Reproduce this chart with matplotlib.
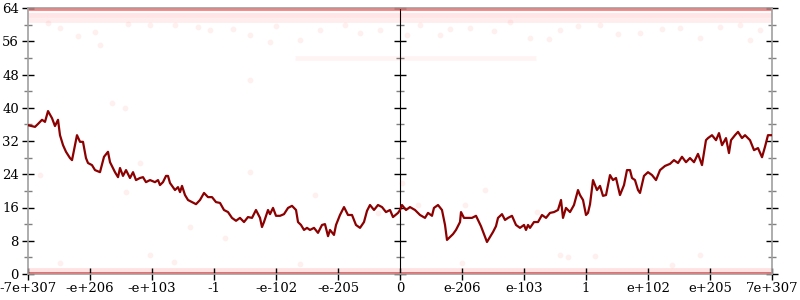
import numpy as np
import matplotlib
matplotlib.use('Agg')
import matplotlib.pyplot as plt
from matplotlib.ticker import MultipleLocator, NullFormatter

# x is measured in tick slots of the ordered-float axis (0 .. 12)
tick_labels = ["-7e+307", "-e+206", "-e+103", "-1", "-e-102", "-e-205", "0",
               "e-206", "e-103", "1", "e+102", "e+205", "7e+307"]

line_x = [0.000, 0.113, 0.161, 0.226, 0.274, 0.323, 0.387, 0.435, 0.484, 0.516,
          0.565, 0.613, 0.677, 0.710, 0.758, 0.790, 0.839, 0.887, 0.935, 0.968,
          1.032, 1.081, 1.161, 1.226, 1.290, 1.323, 1.403, 1.452, 1.484, 1.532,
          1.581, 1.645, 1.694, 1.742, 1.806, 1.855, 1.903, 1.968, 2.048, 2.097,
          2.129, 2.177, 2.226, 2.258, 2.290, 2.371, 2.419, 2.452, 2.484, 2.532,
          2.581, 2.645, 2.710, 2.774, 2.839, 2.903, 2.968, 3.032, 3.097, 3.161,
          3.226, 3.290, 3.355, 3.419, 3.484, 3.548, 3.613, 3.677, 3.742, 3.774,
          3.806, 3.871, 3.903, 3.952, 4.000, 4.065, 4.129, 4.194, 4.258, 4.323,
          4.355, 4.403, 4.452, 4.500, 4.548, 4.613, 4.677, 4.742, 4.790, 4.839,
          4.871, 4.935, 4.968, 5.032, 5.097, 5.161, 5.226, 5.290, 5.355, 5.419,
          5.468, 5.516, 5.581, 5.645, 5.710, 5.774, 5.839, 5.887, 5.968, 6.000,
          6.032, 6.097, 6.161, 6.242, 6.323, 6.403, 6.452, 6.516, 6.548, 6.613,
          6.677, 6.726, 6.758, 6.806, 6.855, 6.903, 6.968, 6.984, 7.032, 7.097,
          7.161, 7.226, 7.258, 7.306, 7.355, 7.403, 7.452, 7.500, 7.548, 7.581,
          7.645, 7.694, 7.742, 7.806, 7.871, 7.935, 8.000, 8.032, 8.065, 8.097,
          8.161, 8.226, 8.290, 8.355, 8.419, 8.484, 8.548, 8.597, 8.629, 8.677,
          8.742, 8.806, 8.871, 8.903, 8.952, 9.000, 9.032, 9.065, 9.113, 9.177,
          9.226, 9.274, 9.323, 9.387, 9.435, 9.484, 9.548, 9.613, 9.661, 9.710,
          9.742, 9.790, 9.839, 9.871, 9.935, 10.000, 10.065, 10.129, 10.194, 10.274,
          10.355, 10.419, 10.484, 10.548, 10.613, 10.677, 10.742, 10.806, 10.871, 10.935,
          10.968, 11.032, 11.097, 11.145, 11.194, 11.258, 11.306, 11.339, 11.403, 11.452,
          11.516, 11.565, 11.645, 11.710, 11.774, 11.839, 11.887, 11.935, 12.000]

line_y = [35.8, 35.4, 36.1, 37.1, 36.6, 39.2, 37.5, 35.6, 37.1, 33.4,
          31.0, 29.4, 27.9, 27.4, 31.0, 33.4, 31.8, 31.8, 27.9, 26.7,
          26.2, 25.0, 24.5, 28.2, 29.4, 26.9, 24.5, 23.3, 25.5, 23.6,
          25.0, 23.1, 24.5, 22.6, 23.1, 23.3, 22.1, 22.6, 22.1, 22.6,
          21.4, 22.1, 23.6, 23.6, 21.9, 20.2, 20.9, 19.7, 21.2, 19.0,
          17.8, 17.3, 16.8, 17.8, 19.5, 18.5, 18.5, 17.3, 17.1, 15.4,
          14.9, 13.5, 12.8, 13.5, 12.5, 13.7, 13.5, 15.4, 13.5, 11.3,
          12.5, 15.4, 14.4, 15.9, 14.0, 14.0, 14.4, 15.9, 16.4, 15.4,
          12.5, 11.8, 10.6, 11.1, 10.6, 11.1, 9.9, 11.8, 12.0, 9.1,
          10.6, 9.4, 11.8, 14.2, 16.1, 14.2, 14.2, 11.8, 11.1, 12.5,
          15.2, 16.6, 15.4, 16.6, 16.1, 14.9, 15.4, 13.7, 14.7, 15.4,
          16.6, 15.4, 16.1, 15.4, 14.2, 13.5, 14.7, 14.0, 15.9, 16.6,
          15.4, 11.8, 8.2, 8.9, 9.6, 10.6, 12.5, 14.9, 13.5, 13.5,
          13.5, 14.0, 13.0, 11.5, 9.6, 7.7, 8.9, 10.1, 11.5, 13.5,
          14.4, 13.0, 13.5, 14.0, 11.8, 11.1, 11.8, 10.6, 11.8, 11.1,
          12.5, 12.5, 14.2, 13.5, 14.7, 14.9, 15.4, 17.8, 13.5, 15.9,
          14.9, 16.6, 20.2, 19.0, 17.8, 14.2, 14.7, 16.8, 22.6, 20.2,
          21.2, 18.8, 19.0, 23.8, 22.6, 23.1, 19.0, 21.4, 25.0, 25.0,
          23.1, 22.6, 20.2, 19.5, 23.6, 24.5, 23.8, 22.6, 25.0, 26.0,
          26.5, 27.4, 26.7, 28.2, 26.9, 27.9, 26.9, 28.9, 26.2, 32.2,
          32.7, 33.4, 32.2, 33.9, 31.0, 32.7, 29.1, 32.2, 33.4, 34.2,
          32.7, 33.4, 32.2, 29.8, 30.3, 28.1, 30.6, 33.4, 33.4]

# scattered samples (faint)
pts_x = [0.516, 1.081, 1.968, 2.935, 3.581, 4.387, 4.710, 5.113, 6.323, 6.645,
         7.129, 7.774, 8.581, 9.226, 9.871, 10.516, 10.839, 11.484, 11.806, 1.161,
         2.371, 4.000, 5.677, 8.097, 0.323, 1.613, 2.742, 3.306, 5.355, 6.806,
         7.516, 8.871, 9.516, 10.226, 11.161, 0.806, 3.903, 6.113, 8.403, 11.645,
         1.355, 1.565, 0.194, 1.806, 1.581, 3.581, 2.613, 3.177, 4.629, 5.645,
         6.032, 6.290, 7.048, 7.371, 8.210, 3.581, 10.839, 1.968, 8.581, 8.710,
         9.145, 0.516, 2.355, 4.387, 7.000, 10.387]
pts_y = [59.2, 58.2, 59.9, 58.7, 57.5, 56.3, 58.7, 59.9, 59.9, 57.5,
         59.2, 60.6, 58.7, 59.9, 58.0, 59.2, 56.8, 59.9, 58.7, 55.1,
         59.9, 59.7, 58.7, 56.8, 60.3, 60.1, 59.5, 58.9, 57.9, 59.0,
         58.4, 59.6, 57.8, 58.9, 59.4, 57.2, 55.9, 57.4, 56.6, 56.2,
         41.1, 39.9, 23.8, 26.7, 19.7, 24.5, 11.3, 8.7, 19.0, 14.7,
         21.9, 16.6, 16.6, 20.2, 14.9, 46.7, 4.6, 4.6, 4.6, 4.1,
         4.3, 2.6, 2.9, 2.4, 2.7, 2.2]

# dense rows of samples: (level, x start, x end)
band_y = [64.0, 62.3, 61.0, 52.0, 0.0, 0.9]
band_x0 = [0.0, 0.0, 0.0, 4.3, 0.0, 0.0]
band_x1 = [12.0, 12.0, 12.0, 8.2, 12.0, 12.0]
band_alpha = [0.5, 0.10, 0.07, 0.045, 0.6, 0.11]

plt.rcParams['font.family'] = ['DejaVu Serif']
fig = plt.figure(figsize=(8, 3), dpi=100)
ax = fig.add_axes([28 / 800, 26 / 300, 744 / 800, 266 / 300])

for y, x0, x1, a in zip(band_y, band_x0, band_x1, band_alpha):
    ax.plot([x0, x1], [y, y], color='#ff0000', alpha=a, lw=3.5,
            solid_capstyle='butt', zorder=1)
ax.scatter(pts_x, pts_y, s=18, color='#ff0000', alpha=0.06, lw=0, zorder=1)
ax.plot(line_x, line_y, color='#8b0000', lw=1.6, zorder=3)

ax.set_xlim(0, 12)
ax.set_ylim(0, 64)

grey = '#a0a0a0'
for s in ax.spines.values():
    s.set_color(grey)
    s.set_linewidth(1.2)

ax.set_xticks(range(13))
ax.set_xticklabels(tick_labels)
ax.yaxis.set_major_locator(MultipleLocator(8))
ax.yaxis.set_minor_locator(MultipleLocator(4))
ax.tick_params(axis='x', direction='inout', length=8, width=1, color='black',
               labelsize=9.5, pad=2)
ax.tick_params(axis='y', which='major', direction='inout', length=9, width=1,
               color='black', labelsize=9.5, pad=2, right=True)
ax.tick_params(axis='y', which='minor', direction='inout', length=6, width=1,
               color='#808080', right=True)

# middle axis at x = 0
mid = ax.secondary_yaxis(0.5)
mid.spines['left'].set_color(grey)
mid.spines['left'].set_linewidth(1.2)
mid.yaxis.set_major_locator(MultipleLocator(8))
mid.yaxis.set_minor_locator(MultipleLocator(4))
mid.yaxis.set_major_formatter(NullFormatter())
mid.tick_params(which='major', direction='inout', length=9, width=1,
                color='black', labelleft=False, labelright=False)
mid.tick_params(which='minor', direction='inout', length=6, width=1,
                color='#808080', labelleft=False, labelright=False)

fig.savefig('out.png', dpi=100)
